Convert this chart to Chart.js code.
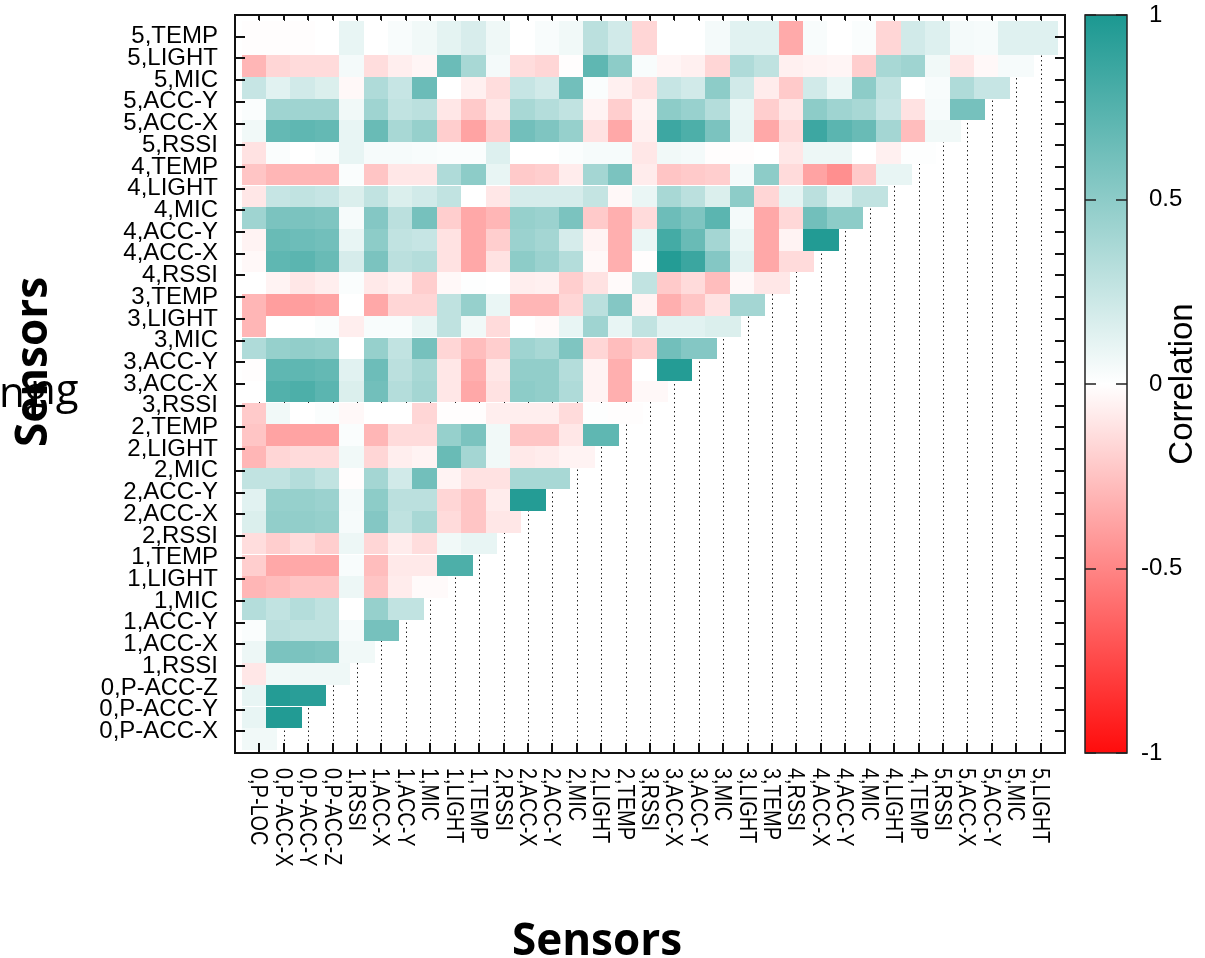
<!DOCTYPE html>
<html>
<head>
<meta charset="utf-8">
<script src="https://cdn.jsdelivr.net/npm/chart.js@4/dist/chart.umd.min.js"></script>
<style>
  html, body { margin: 0; padding: 0; background: #fff; }
</style>
</head>
<body>
<canvas id="heat" width="1205" height="958"></canvas>
<script>
// axis labels
const xLabels = ['0,P-LOC', '0,P-ACC-X', '0,P-ACC-Y', '0,P-ACC-Z',
  '1,RSSI', '1,ACC-X', '1,ACC-Y', '1,MIC', '1,LIGHT', '1,TEMP',
  '2,RSSI', '2,ACC-X', '2,ACC-Y', '2,MIC', '2,LIGHT', '2,TEMP',
  '3,RSSI', '3,ACC-X', '3,ACC-Y', '3,MIC', '3,LIGHT', '3,TEMP',
  '4,RSSI', '4,ACC-X', '4,ACC-Y', '4,MIC', '4,LIGHT', '4,TEMP',
  '5,RSSI', '5,ACC-X', '5,ACC-Y', '5,MIC', '5,LIGHT'];
const yLabels = ['0,P-ACC-X', '0,P-ACC-Y', '0,P-ACC-Z',
  '1,RSSI', '1,ACC-X', '1,ACC-Y', '1,MIC', '1,LIGHT', '1,TEMP',
  '2,RSSI', '2,ACC-X', '2,ACC-Y', '2,MIC', '2,LIGHT', '2,TEMP',
  '3,RSSI', '3,ACC-X', '3,ACC-Y', '3,MIC', '3,LIGHT', '3,TEMP',
  '4,RSSI', '4,ACC-X', '4,ACC-Y', '4,MIC', '4,LIGHT', '4,TEMP',
  '5,RSSI', '5,ACC-X', '5,ACC-Y', '5,MIC', '5,LIGHT', '5,TEMP'];
const colorTicks = [-1, -0.5, 0, 0.5, 1];

// correlation rows (lower triangle), one row per y label, columns follow xLabels
const corrP = [
  [0.06],
  [0.10, 0.97],
  [0.10, 0.96, 0.94]
];
const corr1 = [
  [-0.10, 0.06, 0.07, 0.07],
  [0.08, 0.58, 0.58, 0.56, 0.06],
  [0.02, 0.30, 0.28, 0.28, 0.04, 0.60],
  [0.33, 0.27, 0.33, 0.28, 0.00, 0.46, 0.27],
  [-0.30, -0.27, -0.24, -0.24, 0.08, -0.24, -0.08, -0.02],
  [-0.20, -0.36, -0.36, -0.36, 0.03, -0.27, -0.09, -0.09, 0.78]
];
const corr2 = [
  [-0.14, -0.20, -0.15, -0.20, 0.08, -0.17, -0.08, -0.14, 0.06, 0.10],
  [0.16, 0.48, 0.48, 0.46, 0.04, 0.54, 0.28, 0.38, -0.15, -0.24, -0.10],
  [0.13, 0.46, 0.46, 0.44, 0.05, 0.50, 0.30, 0.30, -0.17, -0.24, -0.08, 0.96],
  [0.27, 0.27, 0.33, 0.27, -0.01, 0.40, 0.20, 0.62, -0.05, -0.12, -0.12, 0.38, 0.38],
  [-0.30, -0.17, -0.15, -0.15, 0.06, -0.17, -0.07, -0.05, 0.66, 0.40, 0.06, -0.09, -0.08, -0.05],
  [-0.24, -0.38, -0.38, -0.38, 0.02, -0.30, -0.15, -0.15, 0.46, 0.58, 0.06, -0.24, -0.24, -0.10, 0.70]
];
const corr3 = [
  [-0.22, 0.06, 0.00, 0.02, -0.03, 0.00, 0.00, -0.17, -0.01, -0.01, -0.07, -0.07, -0.07, -0.15, 0.01, -0.01],
  [0.00, 0.76, 0.78, 0.72, 0.16, 0.62, 0.33, 0.40, -0.10, -0.36, -0.12, 0.50, 0.48, 0.35, -0.05, -0.33, -0.03],
  [-0.01, 0.70, 0.70, 0.68, 0.13, 0.64, 0.30, 0.38, -0.10, -0.33, -0.10, 0.48, 0.48, 0.33, -0.05, -0.33, 0.00, 0.96],
  [0.35, 0.46, 0.48, 0.46, 0.00, 0.46, 0.27, 0.60, -0.17, -0.27, -0.20, 0.42, 0.38, 0.56, -0.17, -0.27, -0.20, 0.62, 0.54],
  [-0.30, 0.00, 0.00, 0.02, -0.07, 0.03, 0.03, 0.10, 0.28, 0.06, -0.15, 0.00, -0.02, 0.10, 0.42, 0.10, 0.27, 0.13, 0.13, 0.16],
  [-0.30, -0.40, -0.40, -0.38, 0.00, -0.36, -0.17, -0.17, 0.28, 0.46, 0.09, -0.30, -0.30, -0.17, 0.30, 0.54, -0.05, -0.33, -0.24, -0.12, 0.40]
];
const corr4 = [
  [0.00, -0.05, -0.10, -0.07, 0.02, -0.09, -0.06, -0.20, -0.03, 0.01, 0.00, -0.07, -0.06, -0.20, -0.12, -0.02, 0.27, -0.22, -0.15, -0.27, -0.03, -0.10],
  [-0.03, 0.70, 0.72, 0.66, 0.18, 0.58, 0.30, 0.33, -0.12, -0.36, -0.12, 0.50, 0.44, 0.33, -0.03, -0.33, -0.01, 0.96, 0.86, 0.54, 0.13, -0.36, -0.15],
  [-0.05, 0.66, 0.64, 0.62, 0.10, 0.50, 0.27, 0.25, -0.12, -0.36, -0.20, 0.44, 0.40, 0.18, -0.05, -0.33, 0.09, 0.82, 0.66, 0.40, 0.09, -0.36, -0.05, 0.97],
  [0.42, 0.58, 0.58, 0.56, 0.04, 0.54, 0.30, 0.60, -0.20, -0.36, -0.30, 0.46, 0.44, 0.58, -0.22, -0.33, -0.15, 0.64, 0.56, 0.72, 0.05, -0.36, -0.16, 0.62, 0.50],
  [-0.10, 0.25, 0.27, 0.25, 0.16, 0.27, 0.16, 0.20, 0.27, 0.00, -0.10, 0.18, 0.18, 0.18, 0.26, -0.03, 0.09, 0.38, 0.30, 0.16, 0.50, -0.17, 0.11, 0.30, 0.13, 0.27],
  [-0.24, -0.30, -0.30, -0.30, 0.02, -0.24, -0.10, -0.10, 0.35, 0.50, 0.10, -0.22, -0.20, -0.08, 0.40, 0.58, -0.08, -0.24, -0.22, -0.20, 0.05, 0.50, -0.15, -0.38, -0.46, -0.22, 0.10]
];
const corr5 = [
  [-0.12, 0.02, 0.00, 0.02, 0.10, 0.04, 0.04, 0.03, 0.02, 0.02, 0.15, 0.00, 0.00, 0.02, 0.04, 0.04, -0.10, 0.06, 0.05, -0.01, -0.01, 0.00, -0.10, 0.08, 0.08, 0.00, -0.06, 0.01],
  [0.06, 0.68, 0.70, 0.68, 0.10, 0.66, 0.38, 0.46, -0.20, -0.38, -0.20, 0.62, 0.56, 0.46, -0.12, -0.36, -0.06, 0.85, 0.78, 0.58, 0.10, -0.36, -0.15, 0.85, 0.72, 0.66, 0.40, -0.27, 0.06],
  [0.02, 0.42, 0.42, 0.42, 0.06, 0.42, 0.27, 0.30, -0.10, -0.22, -0.10, 0.38, 0.33, 0.27, -0.05, -0.20, -0.05, 0.50, 0.45, 0.33, 0.09, -0.20, -0.10, 0.50, 0.42, 0.38, 0.25, -0.12, 0.04, 0.60],
  [0.25, 0.13, 0.20, 0.16, -0.03, 0.35, 0.25, 0.65, 0.00, -0.06, -0.14, 0.25, 0.20, 0.62, 0.02, -0.06, -0.12, 0.25, 0.20, 0.50, 0.20, -0.08, -0.22, 0.20, 0.09, 0.50, 0.27, 0.00, 0.03, 0.35, 0.25],
  [-0.30, -0.17, -0.15, -0.15, 0.05, -0.14, -0.07, -0.04, 0.65, 0.38, 0.05, -0.14, -0.17, -0.01, 0.70, 0.50, 0.03, -0.04, -0.06, -0.17, 0.35, 0.28, -0.06, -0.05, -0.04, -0.20, 0.38, 0.42, 0.06, -0.10, -0.03, 0.04],
  [-0.01, -0.01, -0.01, 0.00, 0.10, 0.00, 0.03, 0.06, 0.12, 0.17, 0.07, 0.00, 0.03, 0.06, 0.30, 0.20, -0.17, 0.00, 0.00, 0.05, 0.13, 0.13, -0.35, 0.03, 0.00, 0.02, -0.17, 0.20, 0.15, 0.05, 0.04, 0.14, 0.14]
];

const TEAL = [27, 152, 145];
const RED = [255, 12, 12];
const FONT = '"Liberation Sans", Arial, sans-serif';

function corrColor(v) {
  const t = Math.min(1, Math.abs(v));
  const end = v >= 0 ? TEAL : RED;
  const ch = end.map(e => Math.round(255 + (e - 255) * t));
  return `rgb(${ch[0]}, ${ch[1]}, ${ch[2]})`;
}

const rows = [...corrP, ...corr1, ...corr2, ...corr3, ...corr4, ...corr5];
const cells = [];
rows.forEach((row, r) => row.forEach((v, c) => cells.push({x: c, y: r, v: v})));

// draws grid, cells, frame, rotated labels and the colour bar
const heatmapPlugin = {
  id: 'heatmap',
  beforeDatasetsDraw(chart) {
    const {ctx, chartArea: a} = chart;
    const x = chart.scales.x, y = chart.scales.y;

    ctx.save();
    ctx.strokeStyle = '#222';
    ctx.lineWidth = 1;
    ctx.setLineDash([1.5, 3]);
    xLabels.forEach((_, i) => {
      const px = Math.round(x.getPixelForValue(i)) + 0.5;
      ctx.beginPath();
      ctx.moveTo(px, a.top);
      ctx.lineTo(px, a.bottom);
      ctx.stroke();
    });
    ctx.restore();

    const lastRow = yLabels.length - 1;
    chart.data.datasets[0].data.forEach(p => {
      const x0 = Math.round(x.getPixelForValue(p.x - 0.73));
      const x1 = Math.round(x.getPixelForValue(p.x === p.y ? p.x + 0.73 : p.x + 0.27));
      const yb = Math.round(y.getPixelForValue(p.y - 0.85));
      const yt = Math.round(y.getPixelForValue(p.y === lastRow ? p.y + 0.73 : p.y + 0.14));
      ctx.fillStyle = corrColor(p.v);
      ctx.fillRect(x0, yt, x1 - x0, yb - yt);
    });
  },
  afterDraw(chart) {
    const {ctx, chartArea: a} = chart;
    const x = chart.scales.x, y = chart.scales.y, cb = chart.scales.cb;
    ctx.save();

    // frame + inward ticks
    ctx.strokeStyle = '#111';
    ctx.lineWidth = 2;
    ctx.strokeRect(a.left, a.top, a.right - a.left, a.bottom - a.top);
    ctx.beginPath();
    xLabels.forEach((_, i) => {
      const px = Math.round(x.getPixelForValue(i));
      ctx.moveTo(px, a.bottom); ctx.lineTo(px, a.bottom - 10);
      ctx.moveTo(px, a.top); ctx.lineTo(px, a.top + 5);
    });
    yLabels.forEach((_, i) => {
      const py = Math.round(y.getPixelForValue(i));
      ctx.moveTo(a.left, py); ctx.lineTo(a.left + 10, py);
      ctx.moveTo(a.right, py); ctx.lineTo(a.right - 10, py);
    });
    ctx.stroke();

    // x tick labels, rotated to read downwards
    ctx.fillStyle = '#000';
    ctx.font = '24px ' + FONT;
    ctx.textAlign = 'left';
    ctx.textBaseline = 'alphabetic';
    xLabels.forEach((lab, i) => {
      const px = x.getPixelForValue(i);
      ctx.save();
      ctx.translate(px - 8, a.bottom + 15);
      ctx.rotate(Math.PI / 2);
      ctx.scale(0.83, 1);
      ctx.fillText(lab, 0, 0);
      ctx.restore();
    });

    // colour bar
    const bx = a.right + 20, bw = 42;
    const bt = cb.getPixelForValue(1), bb = cb.getPixelForValue(-1);
    const grad = ctx.createLinearGradient(0, bt, 0, bb);
    grad.addColorStop(0, corrColor(1));
    grad.addColorStop(0.5, corrColor(0));
    grad.addColorStop(1, corrColor(-1));
    ctx.fillStyle = grad;
    ctx.fillRect(bx, bt, bw, bb - bt);
    ctx.strokeStyle = '#222';
    ctx.lineWidth = 1.5;
    ctx.strokeRect(bx, bt, bw, bb - bt);
    ctx.beginPath();
    colorTicks.forEach(v => {
      const py = Math.round(cb.getPixelForValue(v));
      ctx.moveTo(bx, py); ctx.lineTo(bx + 11, py);
      ctx.moveTo(bx + bw - 11, py); ctx.lineTo(bx + bw, py);
    });
    ctx.stroke();

    // colour bar labels, minus sign hanging to the left
    ctx.fillStyle = '#000';
    ctx.font = '24px ' + FONT;
    ctx.textAlign = 'left';
    ctx.textBaseline = 'middle';
    const minusW = ctx.measureText('-').width;
    colorTicks.forEach(v => {
      const lx = bx + 64 - (v < 0 ? minusW : 0);
      ctx.fillText(String(v), lx, cb.getPixelForValue(v));
    });
    ctx.textBaseline = 'alphabetic';

    ctx.textAlign = 'center';
    ctx.font = '33px ' + FONT;
    ctx.save();
    ctx.translate(1192, (bt + bb) / 2);
    ctx.rotate(-Math.PI / 2);
    ctx.fillText('Correlation', 0, 0);
    ctx.restore();

    // stray text fragments next to the y title
    ctx.textAlign = 'left';
    ctx.font = '42px "Open Sans", sans-serif';
    ctx.fillText('ng', -1, 407);
    ctx.fillText('ng', 30, 404);

    // axis titles
    ctx.textAlign = 'center';
    ctx.font = 'bold 44px "Open Sans", sans-serif';
    ctx.fillText('Sensors', 597, 955);
    ctx.save();
    ctx.translate(47, 362);
    ctx.rotate(-Math.PI / 2);
    ctx.fillText('Sensors', 0, 0);
    ctx.restore();

    ctx.restore();
  }
};

Chart.defaults.font.family = FONT;
Chart.defaults.color = '#000';

// label padding must not push the plot area down
function noVerticalPadding(s) {
  s.paddingTop = 0;
  s.paddingBottom = 0;
}

const chart = new Chart(document.getElementById('heat').getContext('2d'), {
  type: 'scatter',
  data: {
    datasets: [{
      label: 'Correlation',
      data: cells,
      pointRadius: 0,
      pointHoverRadius: 0
    }]
  },
  options: {
    responsive: false,
    devicePixelRatio: 1,
    animation: false,
    events: [],
    layout: { padding: { top: 15, left: 0, right: 0, bottom: 0 } },
    plugins: {
      legend: { display: false },
      tooltip: { enabled: false }
    },
    scales: {
      x: {
        type: 'linear',
        position: 'bottom',
        min: -1,
        max: 33,
        grid: { display: false },
        border: { display: false },
        ticks: { display: false },
        afterFit: s => { s.height = 205; }
      },
      y: {
        type: 'linear',
        position: 'left',
        min: -1,
        max: 33,
        grid: { display: false, drawTicks: false },
        border: { display: false },
        afterBuildTicks: s => { s.ticks = yLabels.map((_, i) => ({value: i})); },
        ticks: {
          autoSkip: false,
          padding: 17,
          font: { size: 24 },
          callback: v => yLabels[v]
        },
        afterFit: s => { s.width = 235; noVerticalPadding(s); }
      },
      cb: {
        type: 'linear',
        position: 'right',
        min: -1,
        max: 1,
        grid: { display: false, drawTicks: false },
        border: { display: false },
        afterBuildTicks: s => { s.ticks = colorTicks.map(v => ({value: v})); },
        ticks: { display: false },
        afterFit: s => { s.width = 140; noVerticalPadding(s); }
      }
    }
  },
  plugins: [heatmapPlugin]
});
</script>
</body>
</html>
